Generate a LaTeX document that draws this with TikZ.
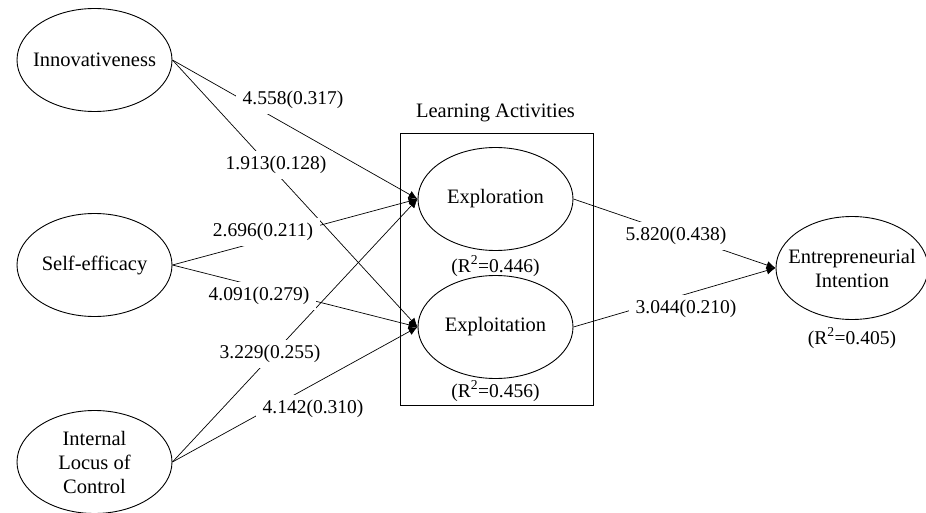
\documentclass[tikz,border=0pt]{standalone}
\usepackage{fontspec}
\setmainfont{Liberation Serif}
\usetikzlibrary{shapes.geometric,arrows.meta,positioning}

\begin{document}
\begin{tikzpicture}[x=1pt,y=-1pt,
	every node/.style={font=\fontsize{19.5}{24}\selectfont},
	construct/.style={draw,ellipse,line width=0.9pt,minimum width=155pt,minimum height=103pt,inner sep=-10pt,align=center,font=\fontsize{20.5}{24}\selectfont},
	effect/.style={line width=0.7pt,-{Latex[length=9pt,width=8pt]}},
	coef/.style={fill=white,inner xsep=7pt,inner ysep=5pt}]
	\useasboundingbox (0,0) rectangle (926,513);
	\pgfmathsetmacro{\LeftX}{94.5}
	\pgfmathsetmacro{\MidX}{495.5}
	
	% PREDICTORS
	\node[construct] (Innov) at (\LeftX,60) {Innovativeness};
	\node[construct] (Efficacy) at (\LeftX,265) {Self-efficacy};
	\node[construct] (Locus) at (\LeftX,462) {Internal\\Locus of\\Control};
	
	% LEARNING ACTIVITIES
	\draw[line width=0.9pt] (400,133) rectangle (593,405);
	\node[font=\fontsize{20.5}{24}\selectfont] (LearnTitle) at (\MidX,113) {Learning Activities};
	\node[construct] (Explor) at (\MidX,199) {Exploration};
	\node[construct] (Exploit) at (\MidX,327) {Exploitation};
	\node (ExplorR) at (\MidX,266) {(R\textsuperscript{2}=0.446)};
	\node (ExploitR) at (\MidX,391) {(R\textsuperscript{2}=0.456)};
	
	% OUTCOME
	\node[construct,minimum width=148pt] (Intention) at (852,268) {Entrepreneurial\\Intention};
	\node (IntentionR) at (852,338) {(R\textsuperscript{2}=0.405)};
	
	% PATHS
	\draw[effect] (Innov.east) -- (Explor.west);
	\draw[effect] (Innov.east) -- (Exploit.west);
	\draw[effect] (Efficacy.east) -- (Explor.west);
	\draw[effect] (Efficacy.east) -- (Exploit.west);
	\draw[effect] (Locus.east) -- (Explor.west);
	\draw[effect] (Locus.east) -- (Exploit.west);
	\draw[effect] (Explor.east) -- (Intention.west);
	\draw[effect] (Exploit.east) -- (Intention.west);
	
	% COEFFICIENTS
	\node[coef] (cA) at (293,100) {4.558(0.317)};
	\node[coef] (cB) at (276,165) {1.913(0.128)};
	\node[coef] (cC) at (263,232) {2.696(0.211)};
	\node[coef] (cD) at (259,296) {4.091(0.279)};
	\node[coef] (cE) at (270,354) {3.229(0.255)};
	\node[coef] (cF) at (313,409) {4.142(0.310)};
	\node[coef] (cG) at (676,236) {5.820(0.438)};
	\node[coef] (cH) at (686,309) {3.044(0.210)};
\end{tikzpicture}
\end{document}
